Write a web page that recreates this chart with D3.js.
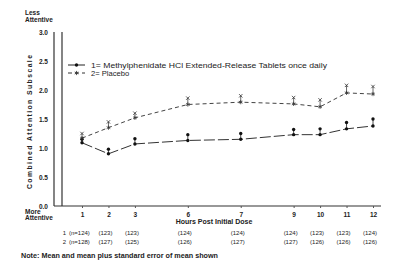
<!DOCTYPE html>
<html>
<head>
<meta charset="utf-8">
<script src="https://cdn.jsdelivr.net/npm/d3@7"></script>
<style>
  body { margin: 0; background: #fff; }
  text { font-family: "Liberation Sans", Arial, sans-serif; fill: #222; }
</style>
</head>
<body>
<svg id="chart" width="400" height="274"></svg>
<script>
// hours on the x axis, the original leaves blank slots after 3, 6 and 7
const hourLabels = ["1", "2", "3", "6", "7", "9", "10", "11", "12"]
const axisSlots = ["1", "2", "3", "4-5", "6", "6-7", "7", "8", "9", "10", "11", "12"]

// 1 = Methylphenidate, mean and mean + SE
const drugMean = [1.09, 0.90, 1.07, 1.13, 1.15, 1.23, 1.23, 1.33, 1.38]
const drugSE = [1.15, 0.98, 1.16, 1.23, 1.25, 1.32, 1.33, 1.44, 1.50]
// 2 = Placebo
const placeboMean = [1.17, 1.35, 1.52, 1.75, 1.79, 1.76, 1.71, 1.95, 1.93]
const placeboSE = [1.25, 1.45, 1.60, 1.86, 1.90, 1.87, 1.83, 2.08, 2.06]

const drugN = ["(n=124)", "(123)", "(123)", "(124)", "(124)", "(124)", "(123)", "(123)", "(124)"]
const placeboN = ["(n=128)", "(127)", "(125)", "(126)", "(127)", "(127)", "(126)", "(126)", "(126)"]

const yTicks = [0, 0.5, 1, 1.5, 2, 2.5, 3]
const legendLabels = ["1= Methylphenidate HCl Extended-Release Tablets once daily", "2= Placebo"]

const drawChart = () => {
    const svg = d3.select('#chart')

    const x = d3.scalePoint()
        .domain(axisSlots)
        .range([82, 373])

    const y = d3.scaleLinear()
        .domain([0, 3])
        .range([206, 32])

    // frame: double line on the left, baseline along the bottom
    svg.append('line')
        .attr('x1', 54).attr('x2', 54).attr('y1', y(3)).attr('y2', y(0))
        .attr('stroke', '#333').attr('stroke-width', 1.2)
    svg.append('line')
        .attr('x1', 62).attr('x2', 62).attr('y1', y(3)).attr('y2', y(0))
        .attr('stroke', '#333').attr('stroke-width', 1.2)
    svg.append('line')
        .attr('x1', 54).attr('x2', 381).attr('y1', y(0)).attr('y2', y(0))
        .attr('stroke', '#333').attr('stroke-width', 1.2)

    // y axis labels
    const yAxis = svg.append('g')
        .attr('transform', 'translate(48,0)')
        .call(d3.axisLeft(y).tickValues(yTicks).tickSize(0).tickFormat(d3.format('.1f')))
    yAxis.select('.domain').remove()
    yAxis.selectAll('text')
        .attr('x', 0)
        .style('font-size', '6.5px')
        .style('font-weight', 'bold')
        .style('font-family', '"Liberation Sans", Arial, sans-serif')
        .attr('fill', '#222')

    // x axis labels
    const xAxis = svg.append('g')
        .attr('transform', `translate(0,${y(0)})`)
        .call(d3.axisBottom(x).tickValues(hourLabels).tickSize(2).tickPadding(4))
    xAxis.select('.domain').remove()
    xAxis.selectAll('line').attr('stroke', '#555')
    xAxis.selectAll('text')
        .style('font-size', '6.5px')
        .style('font-weight', 'bold')
        .style('font-family', '"Liberation Sans", Arial, sans-serif')
        .attr('fill', '#222')

    // lines
    const makeLine = (vals) => d3.line()
        .x((d, i) => x(hourLabels[i]))
        .y(d => y(d))(vals)

    svg.append('path')
        .attr('d', makeLine(drugMean))
        .attr('fill', 'none')
        .attr('stroke', '#333')
        .attr('stroke-width', 1)
        .attr('stroke-dasharray', '11,3')

    svg.append('path')
        .attr('d', makeLine(placeboMean))
        .attr('fill', 'none')
        .attr('stroke', '#444')
        .attr('stroke-width', 1)
        .attr('stroke-dasharray', '4,3')

    // error bars, mean to mean + SE
    const bars = (means, ses, color) => {
        svg.append('g').selectAll('line')
            .data(means)
            .join('line')
            .attr('x1', (d, i) => x(hourLabels[i]))
            .attr('x2', (d, i) => x(hourLabels[i]))
            .attr('y1', d => y(d))
            .attr('y2', (d, i) => y(ses[i]))
            .attr('stroke', color)
            .attr('stroke-width', 0.8)
    }
    bars(drugMean, drugSE, '#222')
    bars(placeboMean, placeboSE, '#444')

    const drugSym = d3.symbol().type(d3.symbolCircle).size(9)
    const placeboSym = d3.symbol().type(d3.symbolAsterisk).size(12)
    const seSym = d3.symbol().type(d3.symbolTimes).size(9)

    svg.append('g').selectAll('path')
        .data(drugMean.concat(drugSE))
        .join('path')
        .attr('transform', (d, i) => `translate(${x(hourLabels[i % 9])},${y(d)})`)
        .attr('d', drugSym)
        .attr('fill', '#111')

    svg.append('g').selectAll('path')
        .data(placeboMean)
        .join('path')
        .attr('transform', (d, i) => `translate(${x(hourLabels[i])},${y(d)})`)
        .attr('d', placeboSym)
        .attr('fill', 'none')
        .attr('stroke', '#333')
        .attr('stroke-width', 0.8)

    svg.append('g').selectAll('path')
        .data(placeboSE)
        .join('path')
        .attr('transform', (d, i) => `translate(${x(hourLabels[i])},${y(d)})`)
        .attr('d', seSym)
        .attr('fill', 'none')
        .attr('stroke', '#333')
        .attr('stroke-width', 0.8)

    // legend
    const legend = svg.append('g').attr('transform', 'translate(68,65)')
    legend.append('line').attr('x1', 0).attr('x2', 17).attr('y1', 0).attr('y2', 0)
        .attr('stroke', '#222').attr('stroke-width', 1)
    legend.append('path').attr('transform', 'translate(8.5,0)').attr('d', drugSym).attr('fill', '#111')
    legend.append('line').attr('x1', 0).attr('x2', 17).attr('y1', 8).attr('y2', 8)
        .attr('stroke', '#333').attr('stroke-width', 1).attr('stroke-dasharray', '4,3')
    legend.append('path').attr('transform', 'translate(8.5,8)').attr('d', placeboSym)
        .attr('fill', 'none').attr('stroke', '#333').attr('stroke-width', 0.8)
    legend.selectAll('text.lg')
        .data(legendLabels)
        .join('text')
        .attr('class', 'lg')
        .attr('x', 23)
        .attr('y', (d, i) => i * 8 + 2.5)
        .attr('textLength', (d, i) => i === 0 ? 236 : null)
        .attr('lengthAdjust', 'spacingAndGlyphs')
        .style('font-size', '7.6px')
        .text(d => d)

    // corner notes
    svg.append('text').attr('x', 25).attr('y', 15).style('font-size', '6.5px').style('font-weight', 'bold').text('Less')
    svg.append('text').attr('x', 25).attr('y', 22).style('font-size', '6.5px').style('font-weight', 'bold').text('Attentive')
    svg.append('text').attr('x', 25).attr('y', 214).style('font-size', '6.5px').style('font-weight', 'bold').text('More')
    svg.append('text').attr('x', 25).attr('y', 220).style('font-size', '6.5px').style('font-weight', 'bold').text('Attentive')

    // axis titles
    svg.append('text')
        .attr('transform', 'translate(32,122) rotate(-90)')
        .attr('text-anchor', 'middle')
        .attr('textLength', 134)
        .attr('lengthAdjust', 'spacing')
        .style('font-size', '6.8px')
        .style('font-weight', 'bold')
        .text('Combined Attention Subscale')

    svg.append('text')
        .attr('x', 214)
        .attr('y', 224)
        .attr('text-anchor', 'middle')
        .style('font-size', '7px')
        .style('font-weight', 'bold')
        .text('Hours Post Initial Dose')

    // n per group under each hour
    const nRow = (label, counts, yPos) => {
        svg.append('text').attr('x', 66).attr('y', yPos).attr('text-anchor', 'end')
            .style('font-size', '6px').text(label)
        svg.append('g').selectAll('text')
            .data(counts)
            .join('text')
            .attr('x', (d, i) => i === 0 ? 69 : x(hourLabels[i]) - 3)
            .attr('y', yPos)
            .attr('text-anchor', (d, i) => i === 0 ? 'start' : 'middle')
            .style('font-size', '6px')
            .text(d => d)
    }
    nRow('1', drugN, 235)
    nRow('2', placeboN, 244)

    svg.append('text')
        .attr('x', 21)
        .attr('y', 258)
        .attr('textLength', 197)
        .attr('lengthAdjust', 'spacingAndGlyphs')
        .style('font-size', '7px')
        .style('font-weight', 'bold')
        .text('Note:   Mean and mean plus standard error of mean shown')
}

drawChart()
</script>
</body>
</html>
